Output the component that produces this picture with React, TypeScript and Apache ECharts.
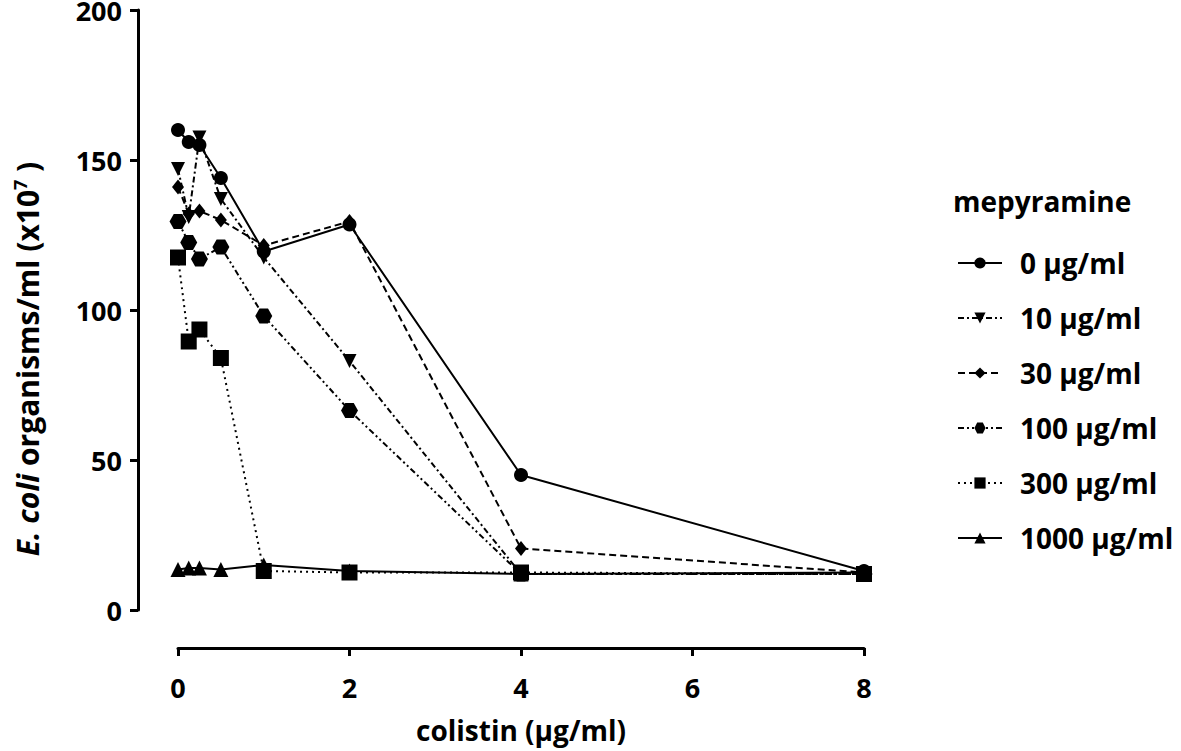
import React, { useEffect, useRef } from "react";
import * as echarts from "echarts";

const colistin = [0, 0.125, 0.25, 0.5, 1, 2, 4, 8];
const seriesNames = ["0 µg/ml", "10 µg/ml", "30 µg/ml", "100 µg/ml", "300 µg/ml", "1000 µg/ml"];
const m0 = [160, 156, 155, 144, 119.5, 128.5, 45, 13];
const m10 = [147, 131, 157.5, 137, 117.5, 83, 12, 12];
const m30 = [141, 132, 133, 130, 121.5, 129.5, 20.5, 12.5];
const m100 = [129.5, 122.5, 117, 121, 98, 66.5, 12, 12];
const m300 = [117.5, 89.5, 93.5, 84, 13, 12.5, 12.5, 12];
const m1000 = [13.5, 14, 14, 13.5, 15, 13, 12, 12.5];
const yTicks = { min: 0, max: 200, interval: 50 };
const xTicks = { min: 0, max: 8, interval: 2 };

const FONT = "'Open Sans', 'Noto Sans', sans-serif";
const HEX = "path://M0,43 L25,0 L75,0 L100,43 L75,86 L25,86 Z";
const FS = 28;
const TFS = 27;

export default function App() {
  const ref = useRef<HTMLDivElement>(null);
  useEffect(() => {
    if (!ref.current) return;
    const chart = echarts.init(ref.current, null, { renderer: "svg" });
    const values = [m0, m10, m30, m100, m300, m1000];
    const symbols: any[] = ["circle", "triangle", "diamond", HEX, "rect", "triangle"];
    const rotates = [0, 180, 0, 0, 0, 0];
    const sizes: any[] = [14, 14, [12, 15], [17, 15], 16, 15];
    const dashes: any[] = ["solid", [6, 3, 2, 3], [7, 4], [6, 3, 2, 3, 2, 3], [2, 4], "solid"];
    const series = values.map((v, i) => ({
      name: seriesNames[i],
      type: "line",
      data: v.map((y, j) => [colistin[j], y]),
      symbol: symbols[i],
      symbolSize: sizes[i],
      symbolRotate: rotates[i],
      itemStyle: { color: "#000" },
      lineStyle: { color: "#000", width: 2, type: dashes[i] },
      z: 10 - i,
    }));
    chart.setOption({
      animation: false,
      backgroundColor: "#fff",
      grid: { left: 178, right: 317, top: 10, bottom: 141, containLabel: false, outerBoundsMode: "none" },
      title: {
        text: "mepyramine",
        left: 948,
        top: 182,
        textStyle: { fontFamily: FONT, fontWeight: "bold", fontSize: FS, color: "#000" },
      },
      legend: {
        orient: "vertical",
        left: 952,
        top: 243,
        itemWidth: 44,
        itemHeight: 14,
        itemGap: 25,
        data: seriesNames,
        textStyle: {
          fontFamily: FONT,
          fontWeight: "bold",
          fontSize: FS,
          color: "#000",
          lineHeight: 30,
          padding: [0, 0, 0, 13],
        },
      },
      xAxis: {
        type: "value",
        min: xTicks.min,
        max: xTicks.max,
        interval: xTicks.interval,
        offset: 38,
        name: "colistin (µg/ml)",
        nameLocation: "middle",
        nameGap: 68,
        nameTextStyle: { fontFamily: FONT, fontWeight: "bold", fontSize: FS, color: "#000" },
        axisLine: { show: true, onZero: false, lineStyle: { color: "#000", width: 3 } },
        axisTick: { show: true, length: 8, lineStyle: { color: "#000", width: 3 } },
        axisLabel: { margin: 26, fontFamily: FONT, fontWeight: "bold", fontSize: TFS, color: "#000" },
        splitLine: { show: false },
      },
      yAxis: {
        type: "value",
        min: yTicks.min,
        max: yTicks.max,
        interval: yTicks.interval,
        offset: 40,
        axisLine: { show: true, onZero: false, lineStyle: { color: "#000", width: 3 } },
        axisTick: { show: true, length: 8, lineStyle: { color: "#000", width: 3 } },
        axisLabel: { margin: 16, fontFamily: FONT, fontWeight: "bold", fontSize: TFS, color: "#000", lineHeight: 20 },
        splitLine: { show: false },
      },
      graphic: [
        {
          type: "text",
          x: 27,
          y: 359,
          rotation: Math.PI / 2,
          style: {
            text: "{i|E. coli} organisms/ml (x10{s|7} )",
            font: `bold 30px ${FONT}`,
            fill: "#000",
            align: "center",
            verticalAlign: "middle",
            rich: {
              i: { fontStyle: "italic", fontWeight: "bold", fontSize: 30, fontFamily: FONT, fill: "#000" },
              s: { fontWeight: "bold", fontSize: 18, fontFamily: FONT, verticalAlign: "top", fill: "#000", padding: [0, 0, 14, 0] },
            },
          },
        },
      ],
      series,
    });
    return () => chart.dispose();
  }, []);
  return <div ref={ref} style={{ width: 1181, height: 751, position: "absolute", left: 0, top: 0 }} />;
}
